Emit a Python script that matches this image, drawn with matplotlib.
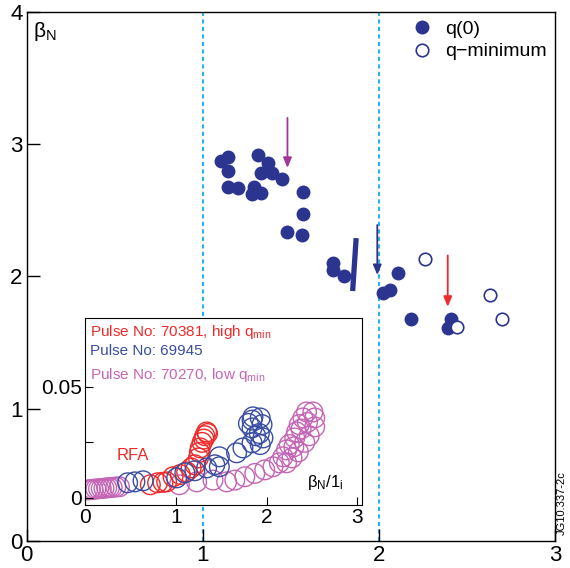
# beta_N vs beta_N/li scan, with q(0) / q-minimum markers and RFA inset

import numpy as np
import matplotlib.pyplot as plt

plt.rcParams['font.family'] = ['Liberation Sans', 'DejaVu Sans']
plt.rcParams['mathtext.fontset'] = 'custom'
plt.rcParams['mathtext.rm'] = 'Liberation Sans'
plt.rcParams['mathtext.it'] = 'Liberation Sans'

navy = '#2b3590'
red = '#ee2a2a'
purple = '#a0359a'
blue_in = '#3a4ea2'
mag_in = '#c565b5'
cyan = '#2bb5e8'

# main panel: q(0) filled, q-minimum open
q0_x = [1.10, 1.14, 1.14, 1.14, 1.20, 1.31, 1.37, 1.33, 1.39, 1.29, 1.28, 1.33,
        1.45, 1.57, 1.57, 1.48, 1.56, 1.74, 1.74, 1.80, 2.02, 2.06, 2.11, 2.18,
        2.41, 2.39]
q0_y = [2.87, 2.90, 2.80, 2.68, 2.67, 2.92, 2.86, 2.78, 2.78, 2.68, 2.62, 2.63,
        2.74, 2.64, 2.47, 2.34, 2.31, 2.10, 2.05, 2.00, 1.875, 1.90, 2.03, 1.68,
        1.68, 1.61]
qmin_x = [2.26, 2.44, 2.63, 2.70]
qmin_y = [2.13, 1.62, 1.86, 1.68]

# arrows (x, y_start, y_end)
arrows = [(1.48, 3.22, 2.80, purple), (1.99, 2.41, 1.99, navy), (2.39, 2.18, 1.75, red)]

# inset: RFA amplitude vs beta_N/li
p70381_x = [0.72, 0.80, 0.86, 0.90, 0.97, 1.05, 1.12, 1.17, 1.21, 1.25, 1.26, 1.27,
            1.29, 1.32, 1.34, 1.35, 1.31]
p70381_y = [0.0059, 0.0068, 0.007, 0.0072, 0.0095, 0.0105, 0.0117, 0.0135, 0.0149, 0.018,
            0.0205, 0.0225, 0.025, 0.028, 0.0297, 0.029, 0.0265]
p69945_x = [0.47, 0.55, 0.64, 1.01, 1.10, 1.21, 1.34, 1.43, 1.48, 1.48, 1.67, 1.74,
            1.84, 1.93, 1.96, 1.92, 1.84, 1.84, 1.93, 1.85, 1.95, 1.88, 1.80]
p69945_y = [0.0068, 0.0072, 0.0077, 0.009, 0.0113, 0.0122, 0.0135, 0.0149, 0.014, 0.0185,
            0.0203, 0.0225, 0.0248, 0.024, 0.027, 0.029, 0.0315, 0.035, 0.036, 0.0365, 0.033,
            0.028, 0.0335]
p70270_x = [0.03, 0.06, 0.09, 0.12, 0.15, 0.18, 0.21, 0.24, 0.27, 0.30, 0.34, 0.38,
            1.04, 1.23, 1.41, 1.56, 1.65, 1.76, 1.87, 1.98, 2.07, 2.14, 2.18, 2.22,
            2.25, 2.31, 2.33, 2.36, 2.40, 2.44, 2.51, 2.53, 2.53, 2.47, 2.42, 2.35,
            2.28, 2.22, 2.30, 2.38, 2.45]
p70270_y = [0.0036, 0.0037, 0.0038, 0.004, 0.0041, 0.0042, 0.0043, 0.0045, 0.0046, 0.0047,
            0.0049, 0.005, 0.0059, 0.0072, 0.008, 0.0072, 0.008, 0.0095, 0.011, 0.0126,
            0.014, 0.0158, 0.0185, 0.0216, 0.024, 0.027, 0.0297, 0.033, 0.036, 0.0387,
            0.0387, 0.036, 0.032, 0.028, 0.025, 0.0207, 0.018, 0.0158, 0.023, 0.031, 0.034]

fig = plt.figure(figsize=(5.7, 5.68), dpi=100)
ax = fig.add_axes([0.047, 0.0475, 0.927, 0.9315])

for xv in [1, 2]:
    ax.axvline(xv, color=cyan, lw=1.5, ls=(0, (2, 1.6)), zorder=1)

ax.plot(q0_x, q0_y, 'o', ms=9, color=navy, mec=navy, label='q(0)', zorder=3)
ax.plot(qmin_x, qmin_y, 'o', ms=9, mfc='white', mec=navy, mew=1.2,
        label='q\u2212minimum', zorder=3)
ax.plot([1.87, 1.85], [2.29, 1.89], color=navy, lw=3.8, solid_capstyle='butt', zorder=3)

for xa, y0, y1, c in arrows:
    ax.annotate('', xy=(xa, y1), xytext=(xa, y0),
                arrowprops=dict(arrowstyle='-|>,head_length=0.6,head_width=0.25', color=c, lw=1.3))

ax.set_xlim(0, 3)
ax.set_ylim(0, 4)
ax.set_xticks([0, 1, 2, 3])
ax.set_yticks([0, 1, 2, 3, 4])
ax.tick_params(direction='in', length=9, labelsize=16, width=1, pad=3)
for s in ax.spines.values():
    s.set_linewidth(1)
ax.text(0.012, 0.985, r'$\beta_N$', transform=ax.transAxes, fontsize=15, va='top', ha='left')
ax.legend(loc='upper right', bbox_to_anchor=(1.01, 1.01), frameon=False, fontsize=14,
          handletextpad=0.2, labelspacing=0.25, borderaxespad=0.3)

fig.text(0.985, 0.115, 'JG10.337-2c', rotation=90, fontsize=8, ha='center', va='center')

# inset
ins = fig.add_axes([0.149, 0.111, 0.486, 0.329])
kw = dict(marker='o', s=200, facecolors='none', linewidths=1.0)
ins.scatter(p70270_x, p70270_y, edgecolors=mag_in, **kw)
ins.scatter(p70381_x, p70381_y, edgecolors=red, **kw)
ins.scatter(p69945_x, p69945_y, edgecolors=blue_in, **kw)
ins.set_xlim(0, 3.05)
ins.set_ylim(-0.0032, 0.081)
ins.set_xticks([0, 1, 2, 3])
ins.set_yticks([0, 0.025, 0.05])
ins.set_yticklabels(['0', '', '0.05'])
ins.tick_params(direction='in', length=6, labelsize=15, pad=2)
ins.text(0.02, 0.975, r'Pulse No: 70381, high q$_\mathregular{min}$', color=red,
         transform=ins.transAxes, fontsize=11, va='top')
ins.text(0.02, 0.86, 'Pulse No: 69945', color=blue_in, transform=ins.transAxes,
         fontsize=11, va='top')
ins.text(0.02, 0.745, r'Pulse No: 70270, low q$_\mathregular{min}$', color=mag_in,
         transform=ins.transAxes, fontsize=11, va='top')
ins.text(0.35, 0.019, 'RFA', color=red, fontsize=12, va='center')
ins.text(2.45, 0.005, r'$\beta_N$/1$_\mathregular{i}$', fontsize=12)

fig.savefig('out.png', dpi=100)
